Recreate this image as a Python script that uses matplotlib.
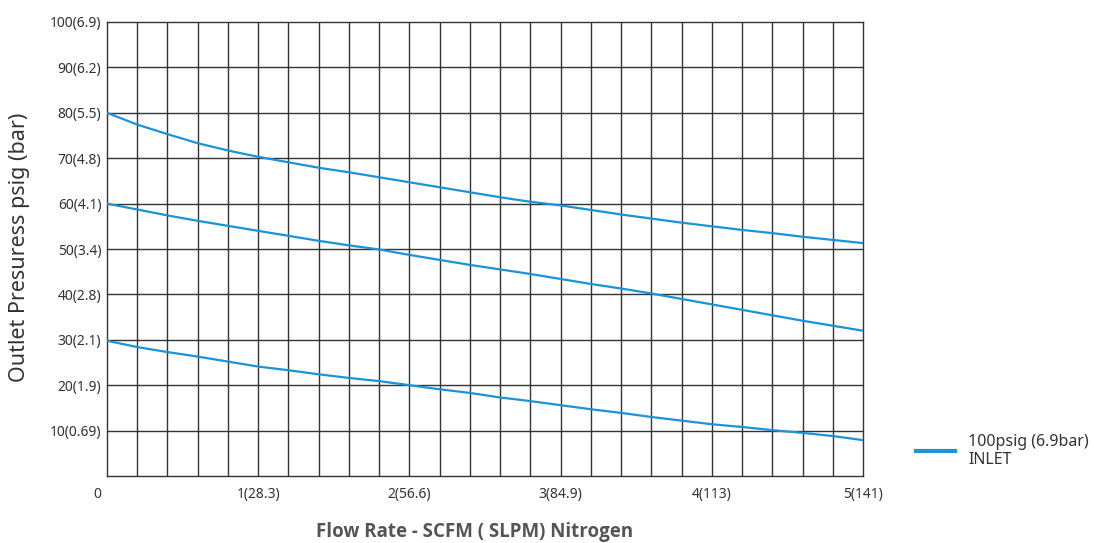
import matplotlib
matplotlib.use('Agg')
import matplotlib.pyplot as plt
import matplotlib.transforms as mtransforms
import numpy as np

plt.rcParams['font.family'] = ['Noto Sans', 'DejaVu Sans']

# flow rate, SCFM
flow = [0, 0.2, 0.4, 0.6, 0.8, 1.0, 1.2, 1.4, 1.6, 1.8, 2.0, 2.2, 2.4, 2.6,
        2.8, 3.0, 3.2, 3.4, 3.6, 3.8, 4.0, 4.2, 4.4, 4.6, 4.8, 5.0]

# outlet pressure, psig
p80 = [80, 77.4, 75.3, 73.3, 71.7, 70.3, 69.1, 67.9, 66.9, 65.8, 64.7, 63.6, 62.5, 61.4,
       60.4, 59.6, 58.6, 57.6, 56.7, 55.8, 55.0, 54.2, 53.5, 52.7, 52.0, 51.3]
p60 = [60, 58.7, 57.4, 56.2, 55.1, 54.0, 52.9, 51.8, 50.8, 49.9, 48.7, 47.6, 46.5, 45.5,
       44.5, 43.4, 42.3, 41.3, 40.2, 39.0, 37.8, 36.6, 35.4, 34.2, 33.1, 32.0]
p30 = [29.8, 28.4, 27.3, 26.3, 25.2, 24.1, 23.3, 22.4, 21.6, 20.9, 20.0, 19.1, 18.3, 17.3,
       16.5, 15.6, 14.7, 13.9, 13.0, 12.2, 11.4, 10.8, 10.1, 9.5, 8.8, 7.9]

x_ticks = [0, 1, 2, 3, 4, 5]
x_labels = ['0', '1(28.3)', '2(56.6)', '3(84.9)', '4(113)', '5(141)']
y_ticks = [10, 20, 30, 40, 50, 60, 70, 80, 90, 100]
y_labels = ['10(0.69)', '20(1.9)', '30(2.1)', '40(2.8)', '50(3.4)', '60(4.1)',
            '70(4.8)', '80(5.5)', '90(6.2)', '100(6.9)']

blue = '#1a93d8'
grid_c = '#333333'

fig = plt.figure(figsize=(10.94, 5.43), dpi=100)
ax = fig.add_axes([107/1094, 1 - 476/543, (863-107)/1094, (476-22)/543])

# grid every 0.2 SCFM and every 10 psig
for xv in np.arange(0.2, 5.0, 0.2):
    ax.axvline(xv, color=grid_c, lw=1, zorder=1)
for yv in y_ticks[:-1]:
    ax.axhline(yv, color=grid_c, lw=1, zorder=1)

l1, = ax.plot(flow, p80, color=blue, lw=1.6, zorder=3)
ax.plot(flow, p60, color=blue, lw=1.6, zorder=3)
ax.plot(flow, p30, color=blue, lw=1.6, zorder=3)

ax.set_xlim(0, 5)
ax.set_ylim(0, 100)
for s in ax.spines.values():
    s.set_color(grid_c)
    s.set_linewidth(1)

ax.set_xticks(x_ticks)
ax.set_xticklabels(x_labels, fontsize=10, color='#333333')
ax.set_yticks(y_ticks)
ax.set_yticklabels(y_labels, fontsize=10, color='#333333')
ax.tick_params(length=0, pad=4)
ax.tick_params(axis='x', pad=8)

# the "0" sits left of the origin
zero_lbl = ax.get_xticklabels()[0]
zero_lbl.set_transform(zero_lbl.get_transform() +
                       mtransforms.ScaledTranslation(-0.10, 0, fig.dpi_scale_trans))

fig.text(475/1094, 1 - 532/543, 'Flow Rate - SCFM ( SLPM) Nitrogen', fontsize=13.5,
         fontweight='bold', color='#555555', ha='center', va='center',
         family=['Open Sans', 'DejaVu Sans'])
fig.text(20/1094, 1 - 247/543, 'Outlet Presuress psig (bar)', fontsize=15.5,
         color='#333333', rotation=90, ha='center', va='center')

leg = fig.legend([l1], ['100psig (6.9bar)\nINLET'], loc='center left',
                 bbox_to_anchor=(916/1094, 1 - 451/543), frameon=False,
                 fontsize=11.5, handlelength=2.45, handletextpad=0.8,
                 labelspacing=0.2, borderpad=0, borderaxespad=0)
for t in leg.get_texts():
    t.set_color('#333333')
    t.set_linespacing(1.15)
for h in leg.legend_handles:
    h.set_linewidth(3)

fig.savefig('out.png', dpi=100)
